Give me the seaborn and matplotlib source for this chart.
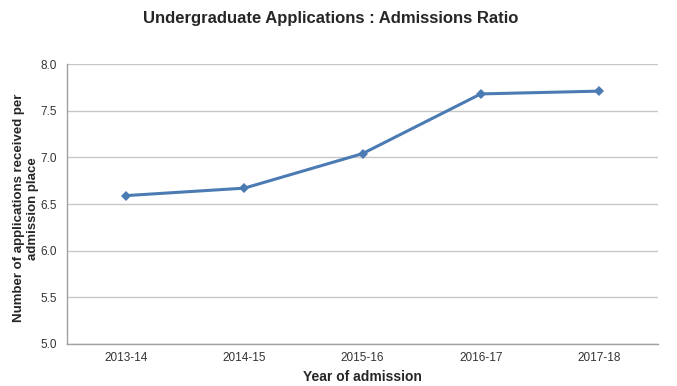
import matplotlib
matplotlib.use("Agg")
import matplotlib.pyplot as plt
import seaborn as sns
import pandas as pd
from matplotlib.ticker import FixedLocator, NullFormatter

years = ["2013-14", "2014-15", "2015-16", "2016-17", "2017-18"]
ratio = [6.59, 6.67, 7.04, 7.68, 7.71]
yticks = [5.0, 5.5, 6.0, 6.5, 7.0, 7.5, 8.0]

df = pd.DataFrame({"year": years, "ratio": ratio})

sns.set_style("white")
plt.rcParams["font.family"] = ["Liberation Sans", "DejaVu Sans"]

fig = plt.figure(figsize=(6.77, 3.86), dpi=100)
ax = fig.add_axes([0.099, 0.109, 0.873, 0.725])

sns.lineplot(data=df, x="year", y="ratio", ax=ax, color="#4c7bb4",
             linewidth=2.2, marker="D", markersize=5, markeredgewidth=0,
             sort=False)

ax.set_ylim(5.0, 8.0)
ax.set_xlim(-0.5, len(years) - 0.5)
ax.set_yticks(yticks)
ax.set_yticklabels([f"{v:.1f}" for v in yticks])
ax.set_xticks(range(len(years)))
ax.set_xticklabels(years)
ax.xaxis.set_minor_locator(FixedLocator([i - 0.5 for i in range(len(years) + 1)]))
ax.xaxis.set_minor_formatter(NullFormatter())

ax.grid(axis="y", color="#c8c8c8", linewidth=1)
ax.set_axisbelow(True)
for s in ["top", "right"]:
    ax.spines[s].set_visible(False)
for s in ["left", "bottom"]:
    ax.spines[s].set_color("#a0a0a0")
    ax.spines[s].set_linewidth(1)

ax.tick_params(axis="x", which="major", length=0, labelsize=8.5, colors="#333333", pad=6)
ax.tick_params(axis="x", which="minor", length=4, color="#a0a0a0", direction="out")
ax.tick_params(axis="y", length=4, color="#a0a0a0", direction="out", labelsize=8.5,
               labelcolor="#333333", pad=3)

ax.set_xlabel("Year of admission", fontsize=10, fontweight="bold", labelpad=4)
ax.set_ylabel("Number of applications received per\nadmission place", fontsize=9.5,
              fontweight="bold", labelpad=3, linespacing=1.15)
ax.yaxis.set_label_coords(-0.048, 0.485)

fig.text(0.488, 0.952, "Undergraduate Applications : Admissions Ratio",
         ha="center", va="center", fontsize=12, fontweight="bold")

fig.savefig("out.png", dpi=100)
